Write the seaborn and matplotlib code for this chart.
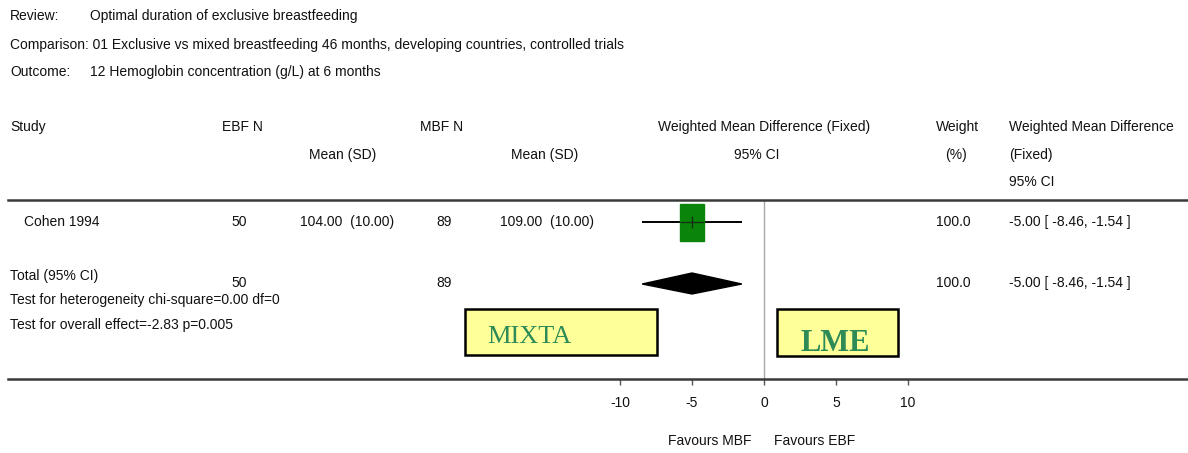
import matplotlib
matplotlib.use("Agg")
import matplotlib.pyplot as plt
from matplotlib.patches import Rectangle
import seaborn as sns
import pandas as pd

# ---------------- data ----------------
studies = ["Cohen 1994"]
ebf_n = [50]
ebf_mean = [104.00]
ebf_sd = [10.00]
mbf_n = [89]
mbf_mean = [109.00]
mbf_sd = [10.00]
wmd = [-5.00]
ci_low = [-8.46]
ci_high = [-1.54]
weight = [100.0]

total_ebf_n = 50
total_mbf_n = 89
total_wmd = -5.00
total_low = -8.46
total_high = -1.54
total_weight = 100.0

x_ticks = [-10, -5, 0, 5, 10]

review = "Optimal duration of exclusive breastfeeding"
comparison = "01 Exclusive vs mixed breastfeeding 46 months, developing countries, controlled trials"
outcome = "12 Hemoglobin concentration (g/L) at 6 months"
heterogeneity = "Test for heterogeneity chi-square=0.00 df=0"
overall = "Test for overall effect=-2.83 p=0.005"
left_label = "Favours MBF"
right_label = "Favours EBF"
box_left = "MIXTA"
box_right = "LME"

# ---------------- style ----------------
sns.set_theme(style="white")
plt.rcParams['font.family'] = ['Liberation Sans', 'DejaVu Sans']
FS = 10
TC = "#111111"

W, H = 1188, 453
fig = plt.figure(figsize=(W / 100, H / 100), dpi=100)
fig.patch.set_facecolor("white")

# background axes in pixel coordinates for the table text
bg = fig.add_axes([0, 0, 1, 1])
bg.set_xlim(0, W)
bg.set_ylim(H, 0)
bg.axis("off")

def t(x, y, s, ha="left", **kw):
    kw.setdefault("fontsize", FS)
    kw.setdefault("color", TC)
    bg.text(x, y, s, ha=ha, va="center", **kw)

# header block
t(10, 16, "Review:")
t(90, 16, review)
t(10, 45, "Comparison: " + comparison)
t(10, 72, "Outcome:")
t(90, 72, outcome)

# column headers
t(10, 127, "Study")
t(222, 127, "EBF N")
t(343, 155, "Mean (SD)", ha="center")
t(420, 127, "MBF N")
t(545, 155, "Mean (SD)", ha="center")
t(764, 127, "Weighted Mean Difference (Fixed)", ha="center")
t(757, 155, "95% CI", ha="center")
t(957, 127, "Weight", ha="center")
t(956, 155, "(%)", ha="center")
t(1009, 127, "Weighted Mean Difference")
t(1009, 155, "(Fixed)")
t(1009, 182, "95% CI")

# study rows
row_y = [222]
for i, s in enumerate(studies):
    y = row_y[i]
    t(24, y, s)
    t(239, y, f"{ebf_n[i]}", ha="center")
    t(300, y, f"{ebf_mean[i]:.2f}  ({ebf_sd[i]:.2f})")
    t(444, y, f"{mbf_n[i]}", ha="center")
    t(500, y, f"{mbf_mean[i]:.2f}  ({mbf_sd[i]:.2f})")
    t(953, y, f"{weight[i]:.1f}", ha="center")
    t(1009, y, f"{wmd[i]:.2f} [ {ci_low[i]:.2f}, {ci_high[i]:.2f} ]")

# total row
ty = 283
t(10, 276, "Total (95% CI)")
t(239, ty, f"{total_ebf_n}", ha="center")
t(444, ty, f"{total_mbf_n}", ha="center")
t(953, ty, f"{total_weight:.1f}", ha="center")
t(1009, ty, f"{total_wmd:.2f} [ {total_low:.2f}, {total_high:.2f} ]")
t(10, 300, heterogeneity)
t(10, 325, overall)

# ---------------- forest axes ----------------
px0, px1 = 8, W
ytop, ybot = 200, 379
unit = 14.4  # pixels per unit of effect
zero_px = 764
ax = fig.add_axes([px0 / W, (H - ybot) / H, (px1 - px0) / W, (ybot - ytop) / H])
ax.set_xlim((px0 - zero_px) / unit, (px1 - zero_px) / unit)
ax.set_ylim(ybot, ytop)
ax.patch.set_alpha(0)
for side in ["left", "right"]:
    ax.spines[side].set_visible(False)
ax.spines["bottom"].set_color("#3a3a3a")
ax.spines["bottom"].set_linewidth(1.8)
ax.spines["top"].set_color("#3a3a3a")
ax.spines["top"].set_linewidth(1.8)
ax.set_yticks([])
ax.set_xticks(x_ticks)
ax.set_xticklabels([str(v) for v in x_ticks], fontsize=FS, color=TC)
ax.tick_params(axis="x", bottom=True, direction="out", length=4, width=1,
               color="#555555", pad=8)

# zero line
ax.axvline(0, color="#a8a8a8", lw=1.0, zorder=1)

# study CI and square
df = pd.DataFrame({"study": studies, "wmd": wmd, "lo": ci_low, "hi": ci_high, "y": row_y})
ax.hlines(df["y"], df["lo"], df["hi"], color="black", lw=1.4, zorder=2)
ax.bar(df["wmd"], height=37, bottom=[y - 18 for y in row_y], width=1.7,
       color="#0a850a", edgecolor="#0a850a", zorder=3)
ax.hlines(df["y"], df["wmd"] - 0.85, df["wmd"] + 0.85, color="#113311", lw=1.0, zorder=4)
sns.scatterplot(data=df, x="wmd", y="y", marker="|", s=80, color="#113311",
                linewidth=1.0, ax=ax, zorder=4, legend=False)
ax.set_xlabel("")
ax.set_ylabel("")

# total diamond
ax.fill([total_low, total_wmd, total_high, total_wmd],
        [284, 273, 284, 294], color="black", zorder=3)

# labelled boxes
r1 = Rectangle((465, 309), 192, 46, facecolor="#ffff99", edgecolor="black", lw=1.8, zorder=5)
bg.add_patch(r1)
bg.text(487, 343, box_left, fontsize=19, family="Liberation Serif", color="#2e8b57",
        va="baseline", ha="left", zorder=6)
r2 = Rectangle((777, 309), 121, 47, facecolor="#ffff99", edgecolor="black", lw=1.8, zorder=5)
bg.add_patch(r2)
tl = bg.text(835, 351, box_right, fontsize=22, family="Liberation Serif", weight="bold",
             color="#2e8b57", va="baseline", ha="center", zorder=6)
clip = Rectangle((778, 310), 119, 37, transform=bg.transData, visible=False)
bg.add_patch(clip)
tl.set_clip_path(clip)

# favours labels
t(710, 441, left_label, ha="center")
t(815, 441, right_label, ha="center")

fig.savefig("out.png", dpi=100, facecolor="white")
